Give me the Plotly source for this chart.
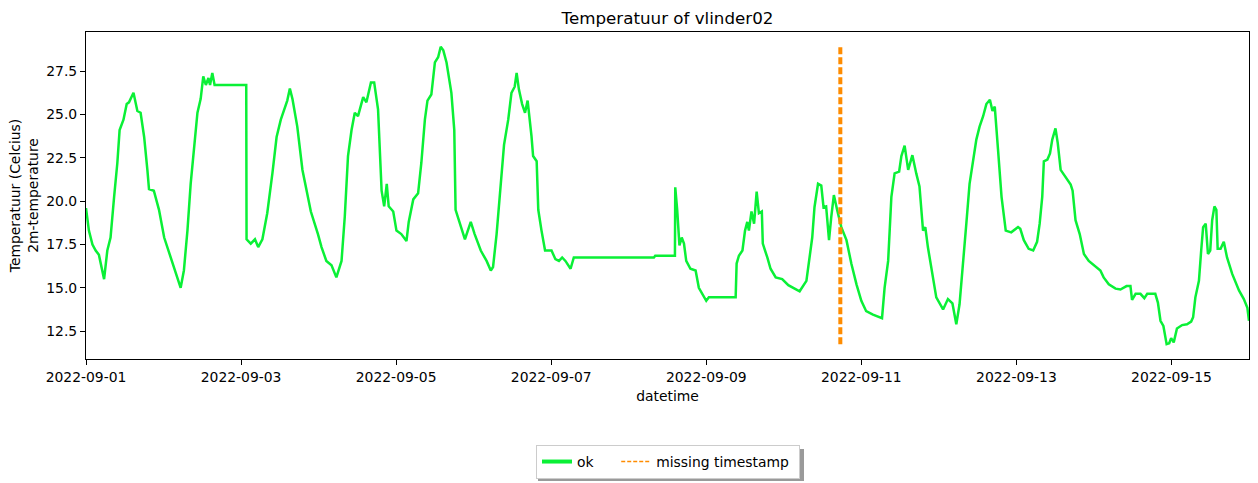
import pandas as pd
import plotly.graph_objects as go

# ---- data (hours after 2022-09-01 00:00, temperature) ----
START = "2022-09-01 00:00"
hours = [
    0.0, 0.9, 2, 3, 4, 5.6, 6.6, 7.6, 8.7, 9.7, 10.4, 11.6, 12.6, 13.3, 14.7, 15.9, 16.9, 18, 19, 19.5,
    21, 22.6, 24.2, 25.7, 27.3, 29.3, 30.3, 31.4, 32.4, 33.4, 34.5, 35.5, 36.3, 37.1, 37.9, 38.4, 39.1, 39.8,
    49.6, 49.7, 51, 52.3, 53.3, 54.6, 56.1, 57.7, 59, 60.3, 61.5, 62.3, 63.1, 63.9, 65.4, 67, 68.3, 69.6,
    71.8, 72.9, 74.4, 76, 77.5, 79.1, 80.1, 81.1, 82.2, 83.2, 84.2, 85.8, 86.8, 88.2, 89.2, 90.4, 91.5,
    92.3, 93.1, 93.7, 95.1, 96.1, 97.6, 99.2, 99.9, 101.3, 102.8, 103.8, 104.9, 105.7, 106.9, 108, 109,
    109.8, 110.6, 111.6, 113.1, 114, 114.4, 115.7, 117.3, 119.1, 120.3, 122.2, 124, 125.3, 126, 127.1,
    128.1, 129.4, 130.7, 131.7, 132.7, 133.3, 134, 135, 135.9, 136.7, 137.9, 138.4, 139.5, 140, 141,
    142.1, 144.1, 145.3, 146.4, 147.4, 148.4, 150, 151, 175.8, 176.2, 182.3, 182.4, 183, 183.7, 184.4,
    185.1, 185.8, 187.1, 188.7, 189.7, 191.3, 192, 192.8, 201.1, 201.4, 202.1, 203.2, 204, 204.7, 205.2,
    206, 206.8, 207.6, 208.3, 209.2, 209.5, 210.9, 211.9, 213.5, 215.5, 217.4, 218.8, 220.9, 223, 224,
    224.8, 225.5, 226.6, 227.6, 228.3, 229.1, 230, 230.7, 231.5, 232.5, 233.8, 235.4, 236.9, 238.5, 240,
    241.5, 243.6, 246.4, 247.2, 248.3, 249.3, 250.3, 251.7, 252.4, 253.4, 254.5, 255.8, 257, 258, 259.1,
    259.8, 260.6, 261.7, 263.2, 265.3, 266.8, 268.2, 269.4, 270.4, 271.5, 272.5, 273.5, 274.6, 275.6,
    276.6, 277.7, 278.7, 279.8, 280.6, 281.3, 282.3, 283.4, 284.7, 286.4, 288.5, 289.2, 290.3, 291.8,
    293.2, 294.4, 295.2, 296, 296.5, 297.6, 298.4, 299.1, 300.1, 300.8, 301.7, 303.2, 304.8, 305.4, 306.3,
    307.6, 308.9, 310.4, 312.5, 314, 315, 316.6, 318.7, 320.2, 322.1, 323.3, 323.8, 324.9, 326.4, 327.6,
    328.5, 331, 331.8, 332.6, 333.5, 334.5, 335.3, 335.9, 336.7, 337.7, 339.3, 340.8, 342.1, 342.7, 343.4,
    344.5, 345.2, 345.8, 346.6, 347.3, 348, 348.6, 349.3, 349.9, 350.3, 351.2, 352.2, 353.2, 354.8, 356.9,
    358.4, 359.5, 360,
]
temperature = [
    19.6, 18.3, 17.5, 17.15, 16.9, 15.5, 17.15, 17.9, 20.25, 22.2, 24.1, 24.7, 25.6, 25.7, 26.25, 25.2, 25.1, 23.7, 21.8, 20.7,
    20.6, 19.5, 17.9, 17.05, 16.1, 15.0, 16.0, 18.3, 21.0, 23.0, 25.1, 25.9, 27.2, 26.7, 27.1, 26.7, 27.4, 26.7,
    26.7, 17.8, 17.55, 17.8, 17.35, 17.8, 19.3, 21.6, 23.7, 24.7, 25.3, 25.8, 26.5, 25.9, 24.3, 21.8, 20.6, 19.4,
    18.1, 17.35, 16.55, 16.3, 15.6, 16.55, 19.1, 22.6, 24.1, 25.1, 24.9, 26.0, 25.7, 26.85, 26.85, 25.3, 20.6,
    19.7, 21.0, 19.7, 19.4, 18.3, 18.1, 17.7, 18.8, 20.1, 20.45, 22.2, 24.7, 25.8, 26.15, 28.0, 28.3,
    28.9, 28.7, 28.0, 26.25, 24.1, 19.5, 18.7, 17.8, 18.8, 18.1, 17.15, 16.55, 16.0, 16.2, 18.1,
    20.25, 23.25, 24.7, 26.25, 26.6, 27.4, 26.45, 25.6, 25.1, 25.8, 23.75, 22.6, 22.3, 19.5, 18.3,
    17.15, 17.15, 16.65, 16.55, 16.75, 16.55, 16.1, 16.75, 16.75, 16.85, 16.85, 20.8, 19.5, 17.45, 17.9,
    17.55, 16.55, 16.1, 16.0, 15.0, 14.45, 14.25, 14.45, 14.45, 16.4, 16.85, 17.15, 18.3, 18.8, 18.3,
    19.4, 18.7, 20.55, 19.3, 19.4, 17.55, 16.75, 16.1, 15.6, 15.5, 15.15, 15.0, 14.8, 15.4, 16.75,
    17.9, 19.65, 21.0, 20.9, 19.65, 19.7, 17.75, 19.1, 20.35, 19.5, 18.5, 17.75, 16.4, 15.2, 14.25,
    13.65, 13.45, 13.25, 15.0, 16.55, 20.25, 21.6, 21.7, 22.6, 23.2, 21.8, 22.65, 21.6, 20.85, 18.3,
    18.5, 17.35, 16.2, 14.45, 13.75, 14.35, 14.1, 12.9, 14.05, 16.75, 18.7, 21.0, 22.4, 23.55,
    24.3, 24.9, 25.6, 25.85, 25.2, 25.45, 23.0, 20.25, 18.3, 18.2, 18.5, 18.4, 17.75, 17.25,
    17.15, 17.65, 18.7, 20.25, 22.3, 22.4, 22.75, 23.55, 24.2, 23.35, 21.8, 21.4, 20.95, 20.6, 18.9,
    18.1, 16.95, 16.55, 16.2, 16.0, 15.6, 15.2, 14.95, 14.9, 15.1, 15.1, 14.3, 14.65, 14.65, 14.4,
    14.65, 14.65, 14.15, 13.1, 12.8, 11.75, 11.8, 12.1, 11.85, 12.65, 12.85, 12.9, 13.05, 13.3, 14.45,
    15.4, 17.15, 18.5, 18.7, 16.95, 17.15, 18.9, 19.7, 19.5, 17.25, 17.25, 17.65, 16.75, 15.8, 14.85,
    14.35, 13.85, 13.1,
]
missing_timestamps = ["2022-09-10 17:30"]
x_tick_labels = ["2022-09-01", "2022-09-03", "2022-09-05", "2022-09-07",
                 "2022-09-09", "2022-09-11", "2022-09-13", "2022-09-15"]
y_tick_values = [12.5, 15.0, 17.5, 20.0, 22.5, 25.0, 27.5]

GREEN = "#0af036"
ORANGE = "#ff8c00"
FONT = "DejaVu Sans"
NB = "\u00a0"

times = pd.Timestamp(START) + pd.to_timedelta(hours, unit="h")
ymin, ymax = min(temperature), max(temperature)

fig = go.Figure()
fig.add_trace(go.Scatter(x=times, y=temperature, mode="lines",
                         line=dict(color=GREEN, width=2.5), showlegend=False, name="ok"))
for ts in missing_timestamps:
    fig.add_trace(go.Scatter(x=[ts, ts], y=[ymin, ymax], mode="lines",
                             line=dict(color=ORANGE, width=4, dash="7px,3px"),
                             showlegend=False, name="missing timestamp"))
# legend proxies
fig.add_trace(go.Scatter(x=[None], y=[None], mode="lines", name="ok" + NB * 4,
                         line=dict(color=GREEN, width=4)))
fig.add_trace(go.Scatter(x=[None], y=[None], mode="lines", name="missing timestamp" + NB,
                         line=dict(color=ORANGE, width=1.5, dash="4px,2px")))

span = ymax - ymin
x_end = pd.Timestamp(START) + pd.Timedelta(hours=hours[-1])

axis_common = dict(showline=True, linecolor="black", linewidth=1, mirror=True,
                   ticks="outside", ticklen=5, tickcolor="black", showgrid=False,
                   zeroline=False, tickfont=dict(family=FONT, size=13.9, color="black"))

# legend shadow (pixel box converted to paper coordinates)
def px_to_paper_x(px):
    return (px - 86) / 1163

def px_to_paper_y(py):
    return (359 - py) / 327

fig.add_shape(type="rect", xref="paper", yref="paper",
              x0=px_to_paper_x(538), x1=px_to_paper_x(804),
              y0=px_to_paper_y(481), y1=px_to_paper_y(449),
              fillcolor="rgba(100,100,100,0.65)", line=dict(width=0), layer="above")

fig.update_layout(
    width=1258, height=483,
    margin=dict(l=86, r=9, t=32, b=124, autoexpand=False),
    paper_bgcolor="white", plot_bgcolor="white",
    font=dict(family=FONT, color="black"),
    title=dict(text="Temperatuur of vlinder02", x=(86 + 1249) / 2 / 1258, xanchor="center",
               y=1 - 18 / 483, yanchor="middle", font=dict(family=FONT, size=16.7, color="black")),
    xaxis=dict(axis_common, range=[pd.Timestamp(START), x_end],
               tickvals=pd.to_datetime(x_tick_labels), ticktext=x_tick_labels,
               title=dict(text="datetime", font=dict(family=FONT, size=13.9), standoff=7)),
    yaxis=dict(axis_common, range=[ymin - 0.05 * span, ymax + 0.05 * span],
               tickvals=y_tick_values, ticktext=[f"{v:.1f}" for v in y_tick_values],
               title=dict(text="Temperatuur (Celcius)<br>2m-temperature",
                          font=dict(family=FONT, size=13.9), standoff=4)),
    legend=dict(orientation="h", x=px_to_paper_x(668), xanchor="center",
                y=px_to_paper_y(462), yanchor="middle",
                bgcolor="white", bordercolor="#cccccc", borderwidth=1,
                font=dict(family=FONT, size=13.9, color="black")),
)
fig.write_html("out.html")
